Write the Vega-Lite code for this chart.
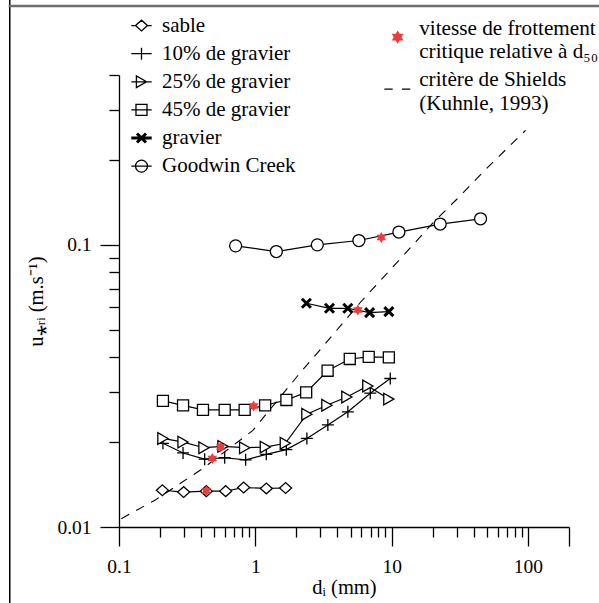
{
  "$schema": "https://vega.github.io/schema/vega-lite/v6.json",
  "width": 450,
  "height": 452,
  "autosize": "none",
  "padding": {"left": 119, "top": 75, "right": 30, "bottom": 76},
  "background": "white",
  "config": {
    "view": {"stroke": null},
    "font": "Liberation Serif",
    "axis": {
      "grid": false, "domainColor": "black", "domainWidth": 1.3, "tickColor": "black", "tickWidth": 1.3,
      "labelColor": "black", "labelFont": "Liberation Serif", "labelFontSize": 19.5,
      "titleFont": "Liberation Serif", "titleFontSize": 20.5, "titleFontWeight": "normal", "titleColor": "black",
      "labelFlush": false, "labelOverlap": false
    },
    "legend": {"labelFont": "Liberation Serif", "labelColor": "black", "labelFontSize": 21, "labelLimit": 400, "padding": 0}
  },
  "datasets": {
    "series": [
      {"series": "sable", "d": 0.208, "u": 0.0135},
      {"series": "sable", "d": 0.298, "u": 0.0133},
      {"series": "sable", "d": 0.437, "u": 0.0134},
      {"series": "sable", "d": 0.606, "u": 0.0134},
      {"series": "sable", "d": 0.821, "u": 0.0138},
      {"series": "sable", "d": 1.205, "u": 0.0137},
      {"series": "sable", "d": 1.668, "u": 0.01375},
      {"series": "10% de gravier", "d": 0.21, "u": 0.0198},
      {"series": "10% de gravier", "d": 0.295, "u": 0.0183},
      {"series": "10% de gravier", "d": 0.425, "u": 0.0174},
      {"series": "10% de gravier", "d": 0.596, "u": 0.0176},
      {"series": "10% de gravier", "d": 0.849, "u": 0.0173},
      {"series": "10% de gravier", "d": 1.204, "u": 0.0181},
      {"series": "10% de gravier", "d": 1.688, "u": 0.0188},
      {"series": "10% de gravier", "d": 2.389, "u": 0.0206},
      {"series": "10% de gravier", "d": 3.405, "u": 0.023},
      {"series": "10% de gravier", "d": 4.775, "u": 0.0256},
      {"series": "10% de gravier", "d": 6.97, "u": 0.0298},
      {"series": "10% de gravier", "d": 9.77, "u": 0.0336},
      {"series": "25% de gravier", "d": 0.21, "u": 0.0206},
      {"series": "25% de gravier", "d": 0.295, "u": 0.02},
      {"series": "25% de gravier", "d": 0.42, "u": 0.0191},
      {"series": "25% de gravier", "d": 0.579, "u": 0.0193},
      {"series": "25% de gravier", "d": 0.835, "u": 0.0191},
      {"series": "25% de gravier", "d": 1.184, "u": 0.0192},
      {"series": "25% de gravier", "d": 1.66, "u": 0.0198},
      {"series": "25% de gravier", "d": 2.389, "u": 0.0251},
      {"series": "25% de gravier", "d": 3.35, "u": 0.027},
      {"series": "25% de gravier", "d": 4.695, "u": 0.0289},
      {"series": "25% de gravier", "d": 6.69, "u": 0.0316},
      {"series": "25% de gravier", "d": 9.54, "u": 0.0284},
      {"series": "45% de gravier", "d": 0.21, "u": 0.028},
      {"series": "45% de gravier", "d": 0.295, "u": 0.027},
      {"series": "45% de gravier", "d": 0.413, "u": 0.026},
      {"series": "45% de gravier", "d": 0.596, "u": 0.026},
      {"series": "45% de gravier", "d": 0.835, "u": 0.026},
      {"series": "45% de gravier", "d": 1.18, "u": 0.027},
      {"series": "45% de gravier", "d": 1.69, "u": 0.0282},
      {"series": "45% de gravier", "d": 2.36, "u": 0.03},
      {"series": "45% de gravier", "d": 3.39, "u": 0.0358},
      {"series": "45% de gravier", "d": 4.93, "u": 0.0394},
      {"series": "45% de gravier", "d": 6.79, "u": 0.0401},
      {"series": "45% de gravier", "d": 9.54, "u": 0.0399},
      {"series": "gravier", "d": 2.37, "u": 0.0621},
      {"series": "gravier", "d": 3.5, "u": 0.0596},
      {"series": "gravier", "d": 4.77, "u": 0.0596},
      {"series": "gravier", "d": 6.89, "u": 0.0575},
      {"series": "gravier", "d": 9.54, "u": 0.058},
      {"series": "Goodwin Creek", "d": 0.717, "u": 0.0992},
      {"series": "Goodwin Creek", "d": 1.426, "u": 0.0947},
      {"series": "Goodwin Creek", "d": 2.85, "u": 0.1},
      {"series": "Goodwin Creek", "d": 5.75, "u": 0.1036},
      {"series": "Goodwin Creek", "d": 11.3, "u": 0.111},
      {"series": "Goodwin Creek", "d": 22.7, "u": 0.1185},
      {"series": "Goodwin Creek", "d": 44.9, "u": 0.1237}
    ],
    "stars": [
      {"kind": "vitesse de frottement|critique relative à d₅₀", "d": 0.437, "u": 0.01342},
      {"kind": "vitesse de frottement|critique relative à d₅₀", "d": 0.484, "u": 0.01749},
      {"kind": "vitesse de frottement|critique relative à d₅₀", "d": 0.557, "u": 0.01923},
      {"kind": "vitesse de frottement|critique relative à d₅₀", "d": 0.972, "u": 0.02682},
      {"kind": "vitesse de frottement|critique relative à d₅₀", "d": 5.65, "u": 0.0588},
      {"kind": "vitesse de frottement|critique relative à d₅₀", "d": 8.39, "u": 0.1061}
    ],
    "shields": [
      {"kind": "critère de Shields|(Kuhnle, 1993)", "d": 0.104, "u": 0.0107},
      {"kind": "critère de Shields|(Kuhnle, 1993)", "d": 0.186, "u": 0.0125},
      {"kind": "critère de Shields|(Kuhnle, 1993)", "d": 0.41, "u": 0.0161},
      {"kind": "critère de Shields|(Kuhnle, 1993)", "d": 0.96, "u": 0.022},
      {"kind": "critère de Shields|(Kuhnle, 1993)", "d": 2.11, "u": 0.035},
      {"kind": "critère de Shields|(Kuhnle, 1993)", "d": 3.13, "u": 0.0436},
      {"kind": "critère de Shields|(Kuhnle, 1993)", "d": 5.82, "u": 0.0621},
      {"kind": "critère de Shields|(Kuhnle, 1993)", "d": 11.4, "u": 0.0885},
      {"kind": "critère de Shields|(Kuhnle, 1993)", "d": 20.0, "u": 0.1194},
      {"kind": "critère de Shields|(Kuhnle, 1993)", "d": 29.8, "u": 0.1445},
      {"kind": "critère de Shields|(Kuhnle, 1993)", "d": 50, "u": 0.187},
      {"kind": "critère de Shields|(Kuhnle, 1993)", "d": 96, "u": 0.2546}
    ]
  },
  "layer": [
    {
      "data": {"values": [{}]},
      "layer": [
        {"mark": {"type": "rule", "clip": false, "color": "black", "strokeWidth": 1.5},
         "encoding": {
           "x": {"datum": 0.0158, "type": "quantitative", "scale": {"type": "log", "domain": [0.1, 200], "nice": false}, "axis": null},
           "y": {"datum": 0.004, "type": "quantitative", "scale": {"type": "log", "domain": [0.01, 0.4], "nice": false}, "axis": null},
           "y2": {"datum": 0.75}
         }},
        {"mark": {"type": "rule", "clip": false, "color": "#6e6e6e", "strokeWidth": 2.5},
         "encoding": {
           "y": {"datum": 0.7026, "type": "quantitative", "axis": null},
           "x": {"datum": 0.0155, "type": "quantitative", "axis": null},
           "x2": {"datum": 500}
         }}
      ]
    },
    {
      "data": {"name": "shields"},
      "mark": {"type": "line", "strokeDash": [9, 8], "strokeWidth": 1.1},
      "encoding": {
        "x": {"field": "d", "type": "quantitative", "scale": {"type": "log", "domain": [0.1, 200], "nice": false},
              "axis": {"orient": "bottom", "values": [0.2,0.3,0.4,0.5,0.6,0.7,0.8,0.9,2,3,4,5,6,7,8,9,20,30,40,50,60,70,80,90], "tickSize": 10, "labels": false, "domain": false, "title": null}},
        "y": {"field": "u", "type": "quantitative", "scale": {"type": "log", "domain": [0.01, 0.4], "nice": false},
              "axis": {"orient": "left", "values": [0.02,0.03,0.04,0.05,0.06,0.07,0.08,0.09,0.2,0.3,0.4], "tickSize": 10, "labels": false, "domain": false, "title": null}},
        "color": {"field": "kind", "type": "nominal",
                  "scale": {"domain": ["vitesse de frottement|critique relative à d₅₀", "critère de Shields|(Kuhnle, 1993)"], "range": ["#ee3b3b", "black"]},
                  "legend": {"title": null, "orient": "none", "legendX": 268, "legendY": -57, "symbolSize": 121, "labelOffset": 11, "rowPadding": 5.5, "labelFontSize": 21.2,
                             "labelExpr": "split(datum.label, '|')",
                             "encode": {
                               "labels": {"update": {"lineHeight": {"value": 23.5}}},
                               "symbols": {"update": {
                               "shape": {"signal": "datum.index === 0 ? 'M0,0.55L0.866,2.05L-0.866,2.05Z M0,2.55L-0.866,1.05L0.866,1.05Z' : 'M-2.4,1.65H-0.9M0.8,1.65H2.3'"},
                               "fill": {"signal": "datum.index === 0 ? '#ee3b3b' : 'transparent'"},
                               "stroke": {"signal": "datum.index === 0 ? 'transparent' : 'black'"},
                               "strokeWidth": {"value": 1.2},
                               "opacity": {"value": 1}}}}}}
      }
    },
    {
      "data": {"name": "series"},
      "mark": {"type": "line", "strokeWidth": 1.2},
      "encoding": {
        "x": {"field": "d", "type": "quantitative", "scale": {"type": "log", "domain": [0.1, 200], "nice": false},
              "axis": {"orient": "bottom", "values": [0.1, 1, 10, 100, 200], "format": "~g", "labelExpr": "datum.value > 150 ? '' : datum.label", "tickSize": 19, "labelPadding": 11, "title": "dᵢ (mm)", "titleFont": "Liberation Serif", "titlePadding": 2}},
        "y": {"field": "u", "type": "quantitative", "scale": {"type": "log", "domain": [0.01, 0.4], "nice": false},
              "axis": {"orient": "left", "values": [0.01, 0.1], "format": "~g", "tickSize": 19, "labelPadding": 9, "title": "u⁎ᵣᵢ (m.s⁻¹)", "titleFont": "Liberation Serif", "titlePadding": 10}},
        "stroke": {"field": "series", "type": "nominal",
                   "scale": {"domain": ["sable", "10% de gravier", "25% de gravier", "45% de gravier", "gravier", "Goodwin Creek"],
                             "range": ["black", "black", "black", "black", "black", "black"]},
                   "legend": {"title": null, "orient": "none", "legendX": 12, "legendY": -59.9, "symbolSize": 144, "labelOffset": 10, "rowPadding": 6.1,
                              "encode": {"symbols": {"update": {
                                "shape": {"signal": "datum.value === 'sable' ? 'M-1.7,0H-1M1,0H1.7M-1,0L0,-0.9L1,0L0,0.9Z' : datum.value === '10% de gravier' ? 'M-1.7,0H1.7M0,-1V1' : datum.value === '25% de gravier' ? 'M-1.7,0H1.7M0.85,0L-0.85,-0.97L-0.85,0.97Z' : datum.value === '45% de gravier' ? 'M-1.7,0H1.7M-0.92,-0.92H0.92V0.92H-0.92Z' : datum.value === 'gravier' ? 'M-1.7,0H1.7M-0.75,-0.75L0.75,0.75M-0.75,0.75L0.75,-0.75' : 'M-1.7,0H1.7M1,0A1,1,0,1,1,-1,0A1,1,0,1,1,1,0Z'"},
                                "fill": {"value": "white"},
                                "opacity": {"value": 1},
                                "strokeWidth": {"signal": "datum.value === 'gravier' ? 3 : 1.3"}}}}}}
      }
    },
    {
      "data": {"name": "series"},
      "transform": [{"filter": "datum.series === 'sable'"}],
      "mark": {"type": "point", "filled": true, "fill": "white", "stroke": "black", "strokeWidth": 1.3, "size": 144, "opacity": 1, "shape": "M-1,0L0,-0.9L1,0L0,0.9Z"},
      "encoding": {"x": {"field": "d", "type": "quantitative", "axis": null}, "y": {"field": "u", "type": "quantitative", "axis": null}}
    },
    {
      "data": {"name": "series"},
      "transform": [{"filter": "datum.series === '10% de gravier'"}],
      "mark": {"type": "point", "filled": false, "stroke": "black", "strokeWidth": 1.3, "size": 144, "opacity": 1, "shape": "M-1,0H1M0,-1V1"},
      "encoding": {"x": {"field": "d", "type": "quantitative", "axis": null}, "y": {"field": "u", "type": "quantitative", "axis": null}}
    },
    {
      "data": {"name": "series"},
      "transform": [{"filter": "datum.series === '25% de gravier'"}],
      "mark": {"type": "point", "filled": true, "fill": "white", "stroke": "black", "strokeWidth": 1.3, "size": 144, "opacity": 1, "shape": "M0.85,0L-0.85,-0.97L-0.85,0.97Z"},
      "encoding": {"x": {"field": "d", "type": "quantitative", "axis": null}, "y": {"field": "u", "type": "quantitative", "axis": null}}
    },
    {
      "data": {"name": "series"},
      "transform": [{"filter": "datum.series === '45% de gravier'"}],
      "mark": {"type": "point", "filled": true, "fill": "white", "stroke": "black", "strokeWidth": 1.3, "size": 144, "opacity": 1, "shape": "M-0.92,-0.92H0.92V0.92H-0.92Z"},
      "encoding": {"x": {"field": "d", "type": "quantitative", "axis": null}, "y": {"field": "u", "type": "quantitative", "axis": null}}
    },
    {
      "data": {"name": "series"},
      "transform": [{"filter": "datum.series === 'gravier'"}],
      "mark": {"type": "point", "filled": false, "stroke": "black", "strokeWidth": 3, "size": 144, "opacity": 1, "shape": "M-0.75,-0.75L0.75,0.75M-0.75,0.75L0.75,-0.75"},
      "encoding": {"x": {"field": "d", "type": "quantitative", "axis": null}, "y": {"field": "u", "type": "quantitative", "axis": null}}
    },
    {
      "data": {"name": "series"},
      "transform": [{"filter": "datum.series === 'Goodwin Creek'"}],
      "mark": {"type": "point", "filled": true, "fill": "white", "stroke": "black", "strokeWidth": 1.3, "size": 144, "opacity": 1, "shape": "circle"},
      "encoding": {"x": {"field": "d", "type": "quantitative", "axis": null}, "y": {"field": "u", "type": "quantitative", "axis": null}}
    },
    {
      "data": {"name": "stars"},
      "mark": {"type": "point", "filled": true, "shape": "M0,-1L0.866,0.5L-0.866,0.5Z M0,1L-0.866,-0.5L0.866,-0.5Z", "size": 121, "opacity": 1, "strokeWidth": 0},
      "encoding": {
        "x": {"field": "d", "type": "quantitative", "axis": null},
        "y": {"field": "u", "type": "quantitative", "axis": null},
        "color": {"field": "kind", "type": "nominal"}
      }
    }
  ],
  "resolve": {"axis": {"x": "independent", "y": "independent"}}
}
